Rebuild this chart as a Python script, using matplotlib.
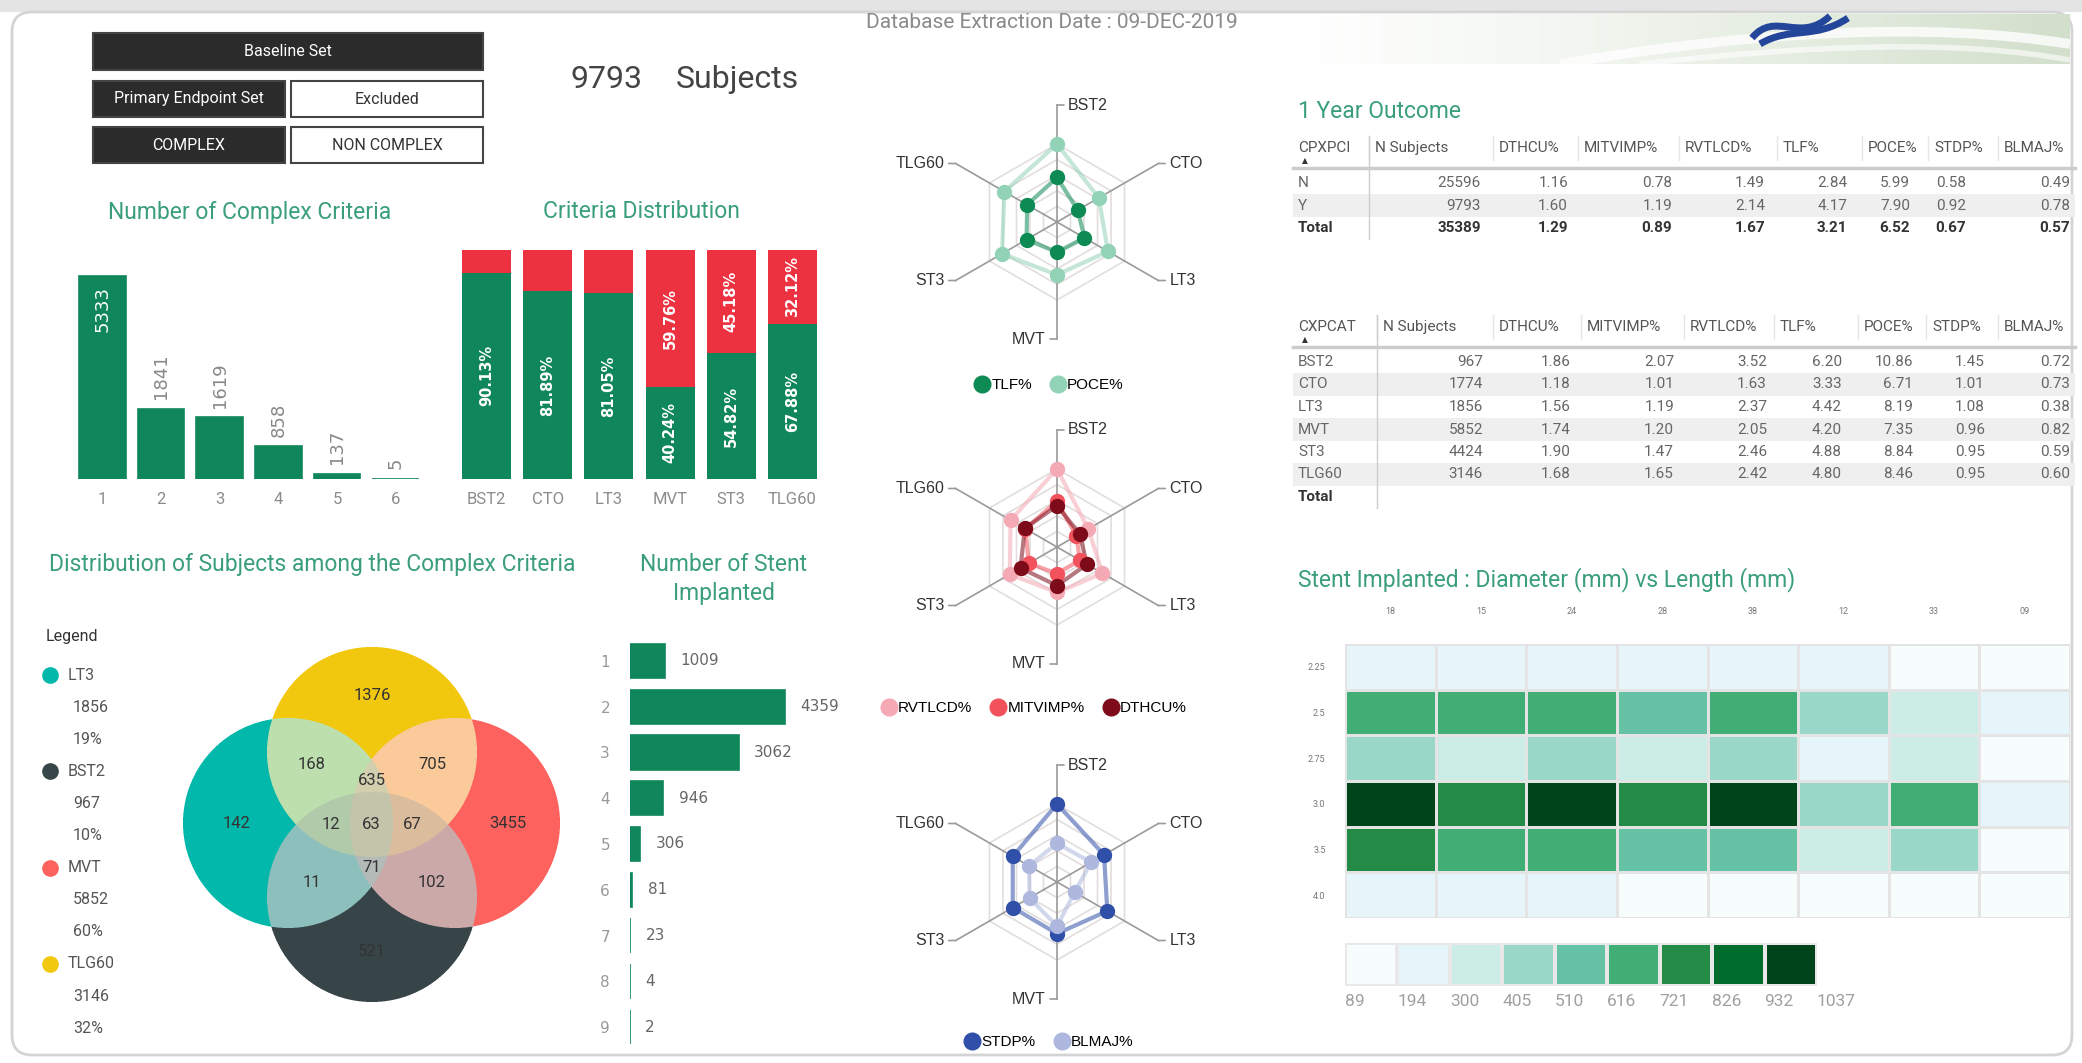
import numpy as np
import matplotlib.pyplot as plt
from matplotlib.patches import Rectangle, FancyBboxPatch, PathPatch
from matplotlib.path import Path
from matplotlib.lines import Line2D
from matplotlib.colors import BoundaryNorm, to_rgb

W, H = 2082, 1063

# ---------------- data ----------------
complex_n = ['1', '2', '3', '4', '5', '6']
complex_counts = [5333, 1841, 1619, 858, 137, 5]

criteria = ['BST2', 'CTO', 'LT3', 'MVT', 'ST3', 'TLG60']
criteria_yes = [90.13, 81.89, 81.05, 40.24, 54.82, 67.88]
criteria_no = [9.87, 18.11, 18.95, 59.76, 45.18, 32.12]

stent_n = ['1', '2', '3', '4', '5', '6', '7', '8', '9']
stent_counts = [1009, 4359, 3062, 946, 306, 81, 23, 4, 2]

venn_names = ['LT3', 'BST2', 'MVT', 'TLG60']
venn_totals = [1856, 967, 5852, 3146]
venn_pct = ['19%', '10%', '60%', '32%']
venn_regions = ['LT3', 'TLG60', 'MVT', 'BST2', 'LT3+TLG60', 'TLG60+MVT', 'LT3+TLG60+MVT',
                'LT3+TLG60+BST2', 'LT3+TLG60+MVT+BST2', 'TLG60+MVT+BST2', 'LT3+BST2',
                'LT3+MVT+BST2', 'MVT+BST2']
venn_region_counts = [142, 1376, 3455, 521, 168, 705, 635, 12, 63, 67, 11, 71, 102]

# 1 year outcome by CPXPCI
cpxpci = ['N', 'Y', 'Total']
n_subj_1y = [25596, 9793, 35389]
dthcu_1y = [1.16, 1.60, 1.29]
mitvimp_1y = [0.78, 1.19, 0.89]
rvtlcd_1y = [1.49, 2.14, 1.67]
tlf_1y = [2.84, 4.17, 3.21]
poce_1y = [5.99, 7.90, 6.52]
stdp_1y = [0.58, 0.92, 0.67]
blmaj_1y = [0.49, 0.78, 0.57]

# outcome by complex category (table + radars)
cat_n = [967, 1774, 1856, 5852, 4424, 3146]
dthcu = [1.86, 1.18, 1.56, 1.74, 1.90, 1.68]
mitvimp = [2.07, 1.01, 1.19, 1.20, 1.47, 1.65]
rvtlcd = [3.52, 1.63, 2.37, 2.05, 2.46, 2.42]
tlf = [6.20, 3.33, 4.42, 4.20, 4.88, 4.80]
poce = [10.86, 6.71, 8.19, 7.35, 8.84, 8.46]
stdp = [1.45, 1.01, 1.08, 0.96, 0.95, 0.95]
blmaj = [0.72, 0.73, 0.38, 0.82, 0.59, 0.60]

col_headers = ['N Subjects', 'DTHCU%', 'MITVIMP%', 'RVTLCD%', 'TLF%', 'POCE%', 'STDP%', 'BLMAJ%']

# stent diameter vs length
diameters = ['2.25', '2.5', '2.75', '3.0', '3.5', '4.0']
lengths = ['18', '15', '24', '28', '38', '12', '33', '09']
stent_grid = [
    [230, 250, 240, 220, 215, 200, 120, 110],
    [650, 640, 660, 560, 630, 430, 340, 210],
    [450, 360, 420, 330, 410, 230, 320, 150],
    [1037, 760, 990, 740, 1000, 440, 670, 200],
    [780, 620, 640, 540, 610, 330, 420, 130],
    [220, 210, 200, 140, 120, 100, 95, 89],
]
legend_bounds = [89, 194, 300, 405, 510, 616, 721, 826, 932, 1037]

# ---------------- style ----------------
plt.rcParams['font.family'] = ['Roboto', 'DejaVu Sans']
GREEN = '#10875A'
RED = '#EC3241'
TITLE = '#3A9E7E'
GREY = '#8c8c8c'
ARIAL = ['Liberation Sans', 'DejaVu Sans']

fig = plt.figure(figsize=(W / 100, H / 100), dpi=100)
fig.patch.set_facecolor('white')


def box(x0, y0, x1, y1):
    return [x0 / W, 1 - y1 / H, (x1 - x0) / W, (y1 - y0) / H]


bg = fig.add_axes([0, 0, 1, 1])
bg.axis('off')

# card + header band
bg.add_patch(Rectangle((0, 0), W, 12, fc='#e4e4e4', ec='none'))
bg.add_patch(FancyBboxPatch((12, 12), W - 22, H - 20, boxstyle='round,pad=0,rounding_size=20',
                            fc='white', ec='#d4d4d4', lw=2))
g = np.linspace(0, 1, 300) ** 1.3
c0, c1 = np.array(to_rgb('#ffffff')), np.array(to_rgb('#d2dfcb'))
grad = c0 + (c1 - c0) * g[None, :, None]
bg.imshow(grad, extent=(1268, 2070, 64, 14), aspect='auto', zorder=1)
for verts, lw, a in [([(1560, 64), (1760, 30), (1930, 22), (2070, 44)], 7, 0.8),
                     ([(1640, 64), (1820, 44), (1960, 40), (2070, 60)], 4, 0.6)]:
    bg.add_patch(PathPatch(Path(verts, [Path.MOVETO, Path.CURVE4, Path.CURVE4, Path.CURVE4]),
                           fc='none', ec='white', lw=lw, alpha=a, zorder=2))
for verts in [[(1752, 38), (1775, 10), (1800, 44), (1830, 16)],
              [(1760, 44), (1790, 26), (1815, 40), (1848, 18)]]:
    bg.add_patch(PathPatch(Path(verts, [Path.MOVETO, Path.CURVE4, Path.CURVE4, Path.CURVE4]),
                           fc='none', ec='#23459a', lw=5, zorder=3))
bg.set_xlim(0, W)
bg.set_ylim(H, 0)

bg.text(866, 23, 'Database Extraction Date : 09-DEC-2019', fontsize=15, color='#8a8a8a',
        ha='left', va='center', zorder=4)

# filter boxes
for (x0, y0, x1, y1, txt, dark) in [(93, 33, 483, 70, 'Baseline Set', True),
                                    (93, 81, 285, 117, 'Primary Endpoint Set', True),
                                    (291, 81, 483, 117, 'Excluded', False),
                                    (93, 127, 285, 163, 'COMPLEX', True),
                                    (291, 127, 483, 163, 'NON COMPLEX', False)]:
    bg.add_patch(Rectangle((x0, y0), x1 - x0, y1 - y0, fc='#2b2b2b' if dark else 'white',
                           ec='#444444', lw=1.5))
    bg.text((x0 + x1) / 2, (y0 + y1) / 2, txt, fontsize=11.5, ha='center', va='center',
            color='white' if dark else '#333333')

bg.text(571, 80, str(n_subj_1y[1]), fontsize=23, color='#444444', ha='left', va='center')
bg.text(676, 80, 'Subjects', fontsize=23, color='#444444', ha='left', va='center')

# titles
bg.text(250, 212, 'Number of Complex Criteria', fontsize=16.5, color=TITLE, ha='center', va='center')
bg.text(641, 212, 'Criteria Distribution', fontsize=16.5, color=TITLE, ha='center', va='center')
bg.text(312, 564, 'Distribution of Subjects among the Complex Criteria', fontsize=16.5,
        color=TITLE, ha='center', va='center')
bg.text(724, 579, 'Number of Stent\nImplanted', fontsize=16.5, color=TITLE, ha='center',
        va='center', linespacing=1.35)
bg.text(1298, 111, '1 Year Outcome', fontsize=16.5, color=TITLE, ha='left', va='center')
bg.text(1298, 580, 'Stent Implanted : Diameter (mm) vs Length (mm)', fontsize=16.5,
        color=TITLE, ha='left', va='center')

# ---------------- number of complex criteria ----------------
ax1 = fig.add_axes(box(73, 252, 425, 479))
x = np.arange(len(complex_n))
ax1.bar(x, complex_counts, width=0.8, color=GREEN, edgecolor=GREEN, linewidth=1.2)
ax1.set_xlim(-0.5, len(complex_n) - 0.5)
ax1.set_ylim(0, 5960)
ax1.set_xticks(x, complex_n)
ax1.set_yticks([])
ax1.tick_params(axis='x', length=0, pad=9, labelsize=12, labelcolor=GREY)
for s in ax1.spines.values():
    s.set_visible(False)
for xi, v in zip(x, complex_counts):
    if v > 0.5 * max(complex_counts):
        ax1.annotate(str(v), (xi, v), xytext=(0, -7), textcoords='offset points', rotation=90,
                     ha='center', va='top', color='white', fontsize=13, family='DejaVu Sans')
    else:
        ax1.annotate(str(v), (xi, v), xytext=(0, 7), textcoords='offset points', rotation=90,
                     ha='center', va='bottom', color='#888888', fontsize=13, family='DejaVu Sans')

# ---------------- criteria distribution ----------------
ax2 = fig.add_axes(box(456, 250, 823, 479))
x = np.arange(len(criteria))
ax2.bar(x, criteria_yes, width=0.8, color=GREEN)
ax2.bar(x, criteria_no, bottom=criteria_yes, width=0.8, color=RED)
ax2.set_xlim(-0.5, len(criteria) - 0.5)
ax2.set_ylim(0, 100)
ax2.set_xticks(x, criteria)
ax2.set_yticks([])
ax2.tick_params(axis='x', length=0, pad=9, labelsize=12, labelcolor=GREY)
for s in ax2.spines.values():
    s.set_visible(False)
for xi, yes, no in zip(x, criteria_yes, criteria_no):
    ax2.text(xi, yes / 2, f'{yes:.2f}%', rotation=90, ha='center', va='center', color='white',
             fontsize=10.5, fontweight='bold', family='DejaVu Sans')
    if no > 25:
        ax2.text(xi, yes + no / 2, f'{no:.2f}%', rotation=90, ha='center', va='center',
                 color='white', fontsize=10.5, fontweight='bold', family='DejaVu Sans')

# ---------------- venn ----------------
vx0, vx1, vy0, vy1 = 150, 600, 630, 1010
vax = fig.add_axes(box(vx0, vy0, vx1, vy1))
centres = {'LT3': (288, 823), 'BST2': (372, 897), 'MVT': (455, 823), 'TLG60': (372, 752)}
radius = 105
venn_colors = {'LT3': '#01B8AA', 'BST2': '#374649', 'MVT': '#FD625E', 'TLG60': '#F2C80F'}
ss = 3
xs = vx0 + (np.arange((vx1 - vx0) * ss) + 0.5) / ss
ys = vy0 + (np.arange((vy1 - vy0) * ss) + 0.5) / ss
gx, gy = np.meshgrid(xs, ys)
inside = {n: (gx - c[0]) ** 2 + (gy - c[1]) ** 2 <= radius ** 2 for n, c in centres.items()}
img = np.ones(gx.shape + (3,))
label_pos = []
for region, cnt in zip(venn_regions, venn_region_counts):
    members = region.split('+')
    m = np.ones(gx.shape, bool)
    for n in venn_names:
        m &= inside[n] if n in members else ~inside[n]
    col = np.mean([to_rgb(venn_colors[n]) for n in members], axis=0)
    if len(members) > 1:
        col = 0.5 * col + 0.5
    img[m] = col
    label_pos.append((gx[m].mean(), gy[m].mean(), cnt))
img = img.reshape(vy1 - vy0, ss, vx1 - vx0, ss, 3).mean(axis=(1, 3))
vax.imshow(img, extent=(vx0, vx1, vy1, vy0), interpolation='bilinear')
for lx, ly, cnt in label_pos:
    vax.text(lx, ly, str(cnt), ha='center', va='center', fontsize=12, color='#333333')
vax.set_xlim(vx0, vx1)
vax.set_ylim(vy1, vy0)
vax.axis('off')

bg.text(46, 636, 'Legend', fontsize=11.5, color='#333333', ha='left', va='center')
for i, (n, tot, pc) in enumerate(zip(venn_names, venn_totals, venn_pct)):
    y0 = 675 + i * 3 * 32.1
    bg.plot(50, y0, 'o', ms=11, color=venn_colors[n])
    bg.text(68, y0, n, fontsize=11.5, color='#555555', ha='left', va='center')
    bg.text(73, y0 + 32.1, str(tot), fontsize=11.5, color='#555555', ha='left', va='center')
    bg.text(73, y0 + 64.2, pc, fontsize=11.5, color='#555555', ha='left', va='center')

# ---------------- number of stent implanted ----------------
ax3 = fig.add_axes(box(629.5, 638, 850, 1050))
y = np.arange(len(stent_n))
ax3.barh(y, stent_counts, height=0.75, color=GREEN, edgecolor=GREEN, linewidth=1.2)
ax3.set_ylim(len(stent_n) - 0.5, -0.5)
ax3.set_xlim(0, 6181)
ax3.set_yticks(y, stent_n)
ax3.set_xticks([])
ax3.tick_params(axis='y', length=0, pad=14, labelsize=11, labelcolor='#999999')
for lab in ax3.get_yticklabels():
    lab.set_family('DejaVu Sans')
for s in ax3.spines.values():
    s.set_visible(False)
for yi, v in zip(y, stent_counts):
    ax3.annotate(str(v), (v, yi), xytext=(11, 0), textcoords='offset points', ha='left',
                 va='center', fontsize=11, color='#666666', family='DejaVu Sans')


# ---------------- radars ----------------
def radar(cx, cy, series, names, cols, lcx, lcy):
    size = 256
    ax = fig.add_axes(box(cx - size / 2, cy - size / 2, cx + size / 2, cy + size / 2),
                      projection='polar')
    vmax = max(max(s) for s in series)
    ax.set_theta_zero_location('N')
    ax.set_theta_direction(-1)
    ax.set_ylim(0, vmax * 128 / 78)
    ax.grid(False)
    ax.set_xticks([])
    ax.set_yticks([])
    ax.spines['polar'].set_visible(False)
    ax.patch.set_alpha(0)
    th = np.deg2rad(np.arange(0, 360, 60))
    thc = np.append(th, th[0])
    for f in [0.2, 0.4, 0.6, 0.8, 1.0]:
        ax.plot(thc, [vmax * f] * 7, color='#e3dddd', lw=1.2, zorder=1)
    r_ext = vmax * 1.5
    for i, (t, lab) in enumerate(zip(th, criteria)):
        ax.plot([t, t], [0, r_ext], color='#9a9a9a', lw=1.2, zorder=2)
        right = i < 3
        ax.annotate(lab, xy=(t, r_ext), xytext=(8 if right else -8, 0), textcoords='offset points',
                    ha='left' if right else 'right', va='center', fontsize=11.5, family=ARIAL,
                    color='#333333', annotation_clip=False,
                    arrowprops=dict(arrowstyle='-', color='#9a9a9a', lw=1.2, shrinkA=1, shrinkB=0))
    for s, c in zip(series, cols):
        v = np.append(s, s[0])
        ax.plot(thc, v, color=c, lw=3, alpha=0.55, zorder=3)
        ax.plot(th, s, 'o', color=c, ms=10, zorder=4, clip_on=False)
    handles = [Line2D([], [], marker='o', ls='', ms=12, color=c) for c in cols]
    ax.legend(handles, names, loc='center', bbox_to_anchor=(lcx / W, 1 - lcy / H),
              bbox_transform=fig.transFigure, ncol=len(names), frameon=False,
              handletextpad=0.1, columnspacing=1.2, handlelength=1.0,
              prop={'family': ARIAL, 'size': 11})


radar(1057, 222, [tlf, poce], ['TLF%', 'POCE%'], ['#0E8A55', '#92D3B7'], 1049, 385)
radar(1057, 547, [rvtlcd, mitvimp, dthcu], ['RVTLCD%', 'MITVIMP%', 'DTHCU%'],
      ['#F5A9B5', '#F2525C', '#7D0B1A'], 1034, 708)
radar(1057, 882, [stdp, blmaj], ['STDP%', 'BLMAJ%'], ['#2F4FA8', '#AEB8DE'], 1049, 1042)


# ---------------- tables ----------------
def table(first_hdr, rows, cols_vals, hdr_left, val_right, y_hdr, y_rows, shaded, first_left=1298):
    left, right = 1293, 2075
    step = y_rows[1] - y_rows[0]
    for i in shaded:
        bg.add_patch(Rectangle((left, y_rows[i] - step / 2), right - left, step, fc='#efefef',
                               ec='none'))
    bg.text(first_left, y_hdr, first_hdr, fontsize=11, color='#555555', ha='left', va='center')
    bg.text(first_left + 4, y_hdr + 13, '\u25b2', fontsize=5.5, color='#333333', ha='left',
            va='center', family='DejaVu Sans')
    for hx, hd in zip(hdr_left, col_headers):
        bg.text(hx, y_hdr, hd, fontsize=11, color='#555555', ha='left', va='center')
    for hx in hdr_left:
        bg.plot([hx - 6, hx - 6], [y_hdr - 12, y_hdr + 12], color='#e6e6e6', lw=1)
    bg.plot([left, right], [y_hdr + 20, y_hdr + 20], color='#cccccc', lw=2.5)
    bg.plot([hdr_left[0] - 6, hdr_left[0] - 6], [y_hdr - 12, y_rows[-1] + step / 2],
            color='#cccccc', lw=1)
    for r, (name, yv) in enumerate(zip(rows, y_rows)):
        bold = name == 'Total'
        bg.text(first_left, yv, name, fontsize=11, ha='left', va='center',
                color='#333333' if bold else '#666666', fontweight='bold' if bold else 'normal')
        for vals, xr, j in zip(cols_vals, val_right, range(len(cols_vals))):
            if r >= len(vals):
                continue
            v = vals[r]
            s = str(v) if j == 0 else f'{v:.2f}'
            bg.text(xr, yv, s, fontsize=11, ha='right', va='center',
                    color='#333333' if bold else '#666666', fontweight='bold' if bold else 'normal')


table('CPXPCI', cpxpci,
      [n_subj_1y, dthcu_1y, mitvimp_1y, rvtlcd_1y, tlf_1y, poce_1y, stdp_1y, blmaj_1y],
      [1375, 1499, 1584, 1685, 1783, 1868, 1934, 2004],
      [1481, 1568, 1672, 1765, 1847, 1910, 1966, 2070],
      148, [183, 205.5, 228], [1])
table('CXPCAT', criteria + ['Total'],
      [cat_n, dthcu, mitvimp, rvtlcd, tlf, poce, stdp, blmaj],
      [1383, 1499, 1587, 1690, 1780, 1864, 1932, 2004],
      [1483, 1571, 1674, 1767, 1842, 1913, 1985, 2070],
      327, [362, 384.5, 407, 429.5, 452, 474.5, 497], [1, 3, 5])

# ---------------- heatmap ----------------
cmap = plt.get_cmap('BuGn').resampled(9)
norm = BoundaryNorm(legend_bounds, cmap.N, clip=True)
hax = fig.add_axes(box(1345, 644, 2070, 918))
hax.pcolormesh(np.array(stent_grid), cmap=cmap, norm=norm, edgecolors='#e4e4e4', linewidth=2)
hax.set_xlim(0, len(lengths))
hax.set_ylim(len(diameters), 0)
hax.xaxis.tick_top()
hax.set_xticks(np.arange(len(lengths)) + 0.5, lengths)
hax.set_yticks(np.arange(len(diameters)) + 0.5, diameters)
hax.tick_params(length=0, labelsize=6.5, labelcolor='#777777')
hax.tick_params(axis='x', pad=20)
hax.tick_params(axis='y', pad=14)
for s in hax.spines.values():
    s.set_visible(False)

cax = fig.add_axes(box(1345, 943, 1817, 986))
cax.pcolormesh(np.arange(10), [0, 1], np.arange(9)[None, :], cmap=cmap, vmin=-0.5, vmax=8.5,
               edgecolors='#e8e8e8', linewidth=1.5)
cax.set_xlim(0, 9)
cax.set_ylim(0, 1)
cax.set_xticks(np.arange(10), [str(b) for b in legend_bounds])
for lab in cax.get_xticklabels():
    lab.set_ha('left')
cax.set_yticks([])
cax.tick_params(length=0, pad=6, labelsize=12.5, labelcolor='#a0a0a0')
for s in cax.spines.values():
    s.set_visible(False)

fig.savefig('out.png', dpi=100)
